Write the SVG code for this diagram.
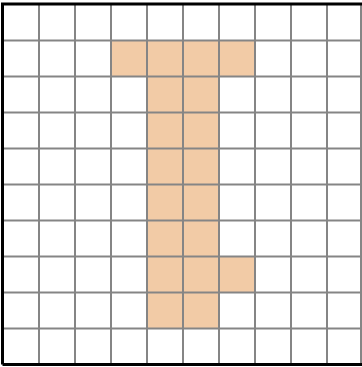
<svg xmlns="http://www.w3.org/2000/svg" width="362" height="367" viewBox="0 0 362 367">
<style>
.cell{fill:#F2CBA6;stroke:none}
.g{stroke:#858585;stroke-width:2;fill:none}
.b{stroke:#000;stroke-width:3;fill:none}
</style>
<rect width="362" height="367" fill="#fff"/>
<g id="fill">
<rect class="cell" x="111" y="40" width="144" height="36"/>
<rect class="cell" x="147" y="76" width="72" height="252"/>
<rect class="cell" x="219" y="256" width="36" height="36"/>
</g>
<g id="grid">
<path class="g" d="M39 4V364M75 4V364M111 4V364M147 4V364M183 4V364M219 4V364M255 4V364M291 4V364M327 4V364M361 4V364"/>
<path class="g" d="M2 40.5H362M2 76.5H362M2 112.5H362M2 148.5H362M2 184.5H362M2 220.5H362M2 256.5H362M2 292.5H362M2 328.5H362"/>
<path class="b" d="M2.5 364.5V4H362M2.5 364.5H362"/>
</g>
</svg>
